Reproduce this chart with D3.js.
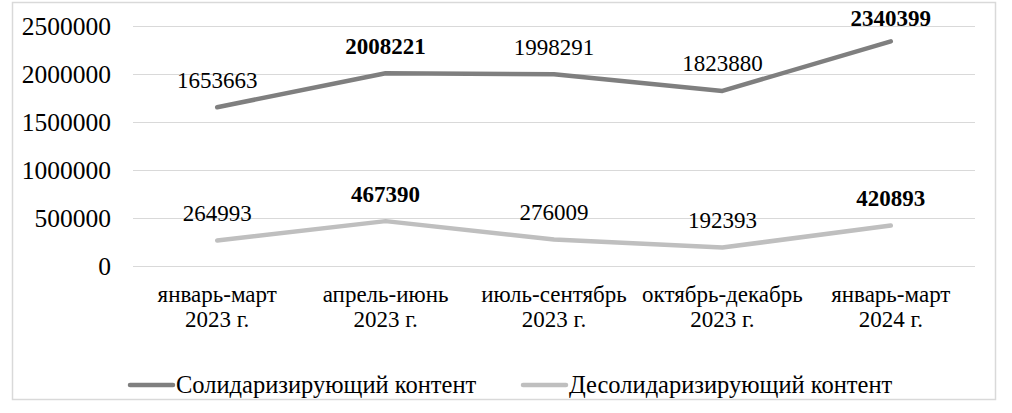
<!DOCTYPE html>
<html>
<head>
<meta charset="utf-8">
<script src="https://cdn.jsdelivr.net/npm/d3@7"></script>
<style>
  body { margin: 0; background: #fff; }
</style>
</head>
<body>
<div id="chart"></div>
<script>
// Quarters (two-line labels)
const categories = [
    ['январь-март', '2023 г.'],
    ['апрель-июнь', '2023 г.'],
    ['июль-сентябрь', '2023 г.'],
    ['октябрь-декабрь', '2023 г.'],
    ['январь-март', '2024 г.']
];
const solidValues = [1653663, 2008221, 1998291, 1823880, 2340399];
const desolidValues = [264993, 467390, 276009, 192393, 420893];
const seriesNames = ['Солидаризирующий контент', 'Десолидаризирующий контент'];
const yTicks = [0, 500000, 1000000, 1500000, 2000000, 2500000];

const FONT = '"Liberation Serif"';
const width = 1012, height = 413;
const plot = { left: 133, right: 975, top: 26, bottom: 266 };

const svg = d3.select('#chart').append('svg')
    .attr('width', width)
    .attr('height', height);

// chart frame
svg.append('rect')
    .attr('x', 12.5).attr('y', 2.5)
    .attr('width', 983).attr('height', 397)
    .attr('fill', '#fff')
    .attr('stroke', '#d9d9d9')
    .attr('stroke-width', 1.5);

const x = d3.scaleBand()
    .domain(d3.range(categories.length))
    .range([plot.left, plot.right]);

const y = d3.scaleLinear()
    .domain([0, 2500000])
    .range([plot.bottom, plot.top]);

// gridlines + y labels
const yAxis = svg.append('g')
    .attr('transform', `translate(${plot.left},0)`)
    .call(d3.axisLeft(y).tickValues(yTicks).tickFormat(d3.format('d'))
        .tickSize(-(plot.right - plot.left)).tickPadding(22));
yAxis.select('.domain').remove();
yAxis.selectAll('.tick line').attr('stroke', '#d9d9d9').attr('stroke-width', 1);
yAxis.selectAll('.tick text')
    .style('font-family', FONT)
    .style('font-size', '25.5px')
    .attr('fill', '#000');

// category labels
const xg = svg.append('g');
categories.forEach((c, i) => {
    const t = xg.append('text')
        .attr('x', x(i) + x.bandwidth() / 2)
        .attr('y', 302)
        .attr('text-anchor', 'middle')
        .style('font-family', FONT)
        .style('font-size', '23px')
        .attr('fill', '#000');
    c.forEach((line, j) => {
        t.append('tspan')
            .attr('x', x(i) + x.bandwidth() / 2)
            .attr('dy', j === 0 ? 0 : 25)
            .text(line);
    });
});

const series = [
    { name: seriesNames[0], values: solidValues, color: '#7f7f7f' },
    { name: seriesNames[1], values: desolidValues, color: '#bfbfbf' }
];

const line = d3.line()
    .x((d, i) => x(i) + x.bandwidth() / 2)
    .y(d => y(d));

series.forEach(s => {
    svg.append('path')
        .datum(s.values)
        .attr('fill', 'none')
        .attr('stroke', s.color)
        .attr('stroke-width', 4.5)
        .attr('stroke-linejoin', 'round')
        .attr('stroke-linecap', 'round')
        .attr('d', line);

    // data labels, bold where the value went up
    svg.selectAll(null)
        .data(s.values)
        .enter()
        .append('text')
        .attr('x', (d, i) => x(i) + x.bandwidth() / 2)
        .attr('y', d => Math.max(y(d) - 19.5, 26))
        .attr('text-anchor', 'middle')
        .style('font-family', FONT)
        .style('font-size', '23px')
        .style('font-weight', (d, i) => (i > 0 && d > s.values[i - 1]) ? 'bold' : 'normal')
        .attr('fill', '#000')
        .text(d => d);
});

// legend
const legendX = [130, 523];
series.forEach((s, i) => {
    const g = svg.append('g').attr('transform', `translate(${legendX[i]},385)`);
    g.append('line')
        .attr('x1', 0).attr('x2', 43)
        .attr('y1', 0).attr('y2', 0)
        .attr('stroke', s.color)
        .attr('stroke-width', 4.5)
        .attr('stroke-linecap', 'round');
    g.append('text')
        .attr('x', 46)
        .attr('y', 8)
        .style('font-family', FONT)
        .style('font-size', '24.5px')
        .attr('fill', '#000')
        .text(s.name);
});
</script>
</body>
</html>
